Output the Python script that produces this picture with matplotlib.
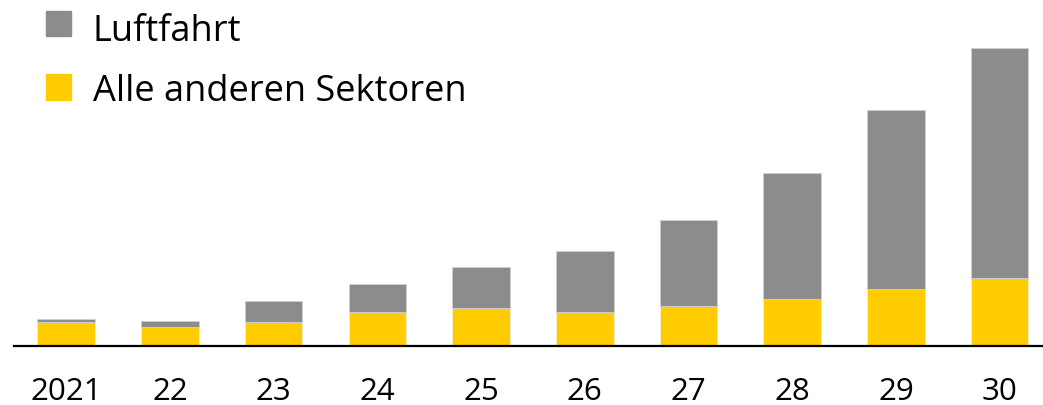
import matplotlib.pyplot as plt
from matplotlib.patches import Rectangle

years = ['2021', '22', '23', '24', '25', '26', '27', '28', '29', '30']
andere = [2.4, 1.9, 2.4, 3.4, 3.8, 3.4, 4.0, 4.7, 5.7, 6.8]
luftfahrt = [0.3, 0.6, 2.1, 2.8, 4.1, 6.1, 8.6, 12.6, 17.9, 23.0]

series = ['Luftfahrt', 'Alle anderen Sektoren']
colors = ['#8c8c8c', '#ffcc00']

plt.rcParams['font.family'] = ['Open Sans', 'DejaVu Sans']

W, H = 1043, 406
fig = plt.figure(figsize=(W/100.0, H/100.0), dpi=100)

# axes placed in pixels: left edge at 14px, baseline at 347px from top
ax = fig.add_axes([14.4/W, 59.0/H, (W-14.4)/W, 347.0/H])
x = range(len(years))
ax.bar(x, andere, width=0.555, color=colors[1], edgecolor='#f5f0d8', linewidth=0.6)
ax.bar(x, luftfahrt, width=0.555, bottom=andere, color=colors[0], edgecolor='#d0d0d0', linewidth=0.6)

ax.set_xlim(-0.5, (W - 66.3)/103.7)
ax.set_ylim(0, 34.7)
for s in ['top', 'right', 'left']:
    ax.spines[s].set_visible(False)
ax.spines['bottom'].set_linewidth(1.6)
ax.spines['bottom'].set_color('black')
ax.set_yticks([])
ax.set_xticks(list(x))
ax.set_xticklabels(years, fontsize=22.5)
ax.tick_params(axis='x', length=0, pad=21.5)

# legend drawn by hand (squares + text)
sq_top = [11.7, 75.3]
baselines = [40.7, 100.7]
for name, c, t, b in zip(series, colors, sq_top, baselines):
    fig.add_artist(Rectangle((46.0/W, (H - t - 25.3)/H), 25.0/W, 25.3/H,
                             transform=fig.transFigure, color=c))
    fig.text(93.0/W, (H - b)/H, name, fontsize=26, va='baseline', ha='left')

fig.savefig('out.png', dpi=100)
